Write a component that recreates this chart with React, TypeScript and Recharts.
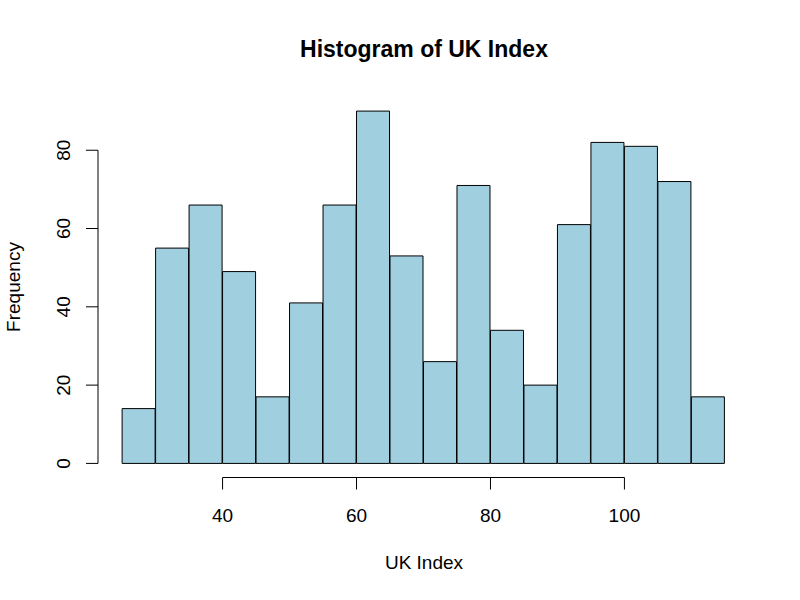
import {
  BarChart,
  Bar,
  XAxis,
  YAxis,
  ReferenceLine,
} from "recharts";

// histogram bins (left edges), width 5
const binStarts = [25, 30, 35, 40, 45, 50, 55, 60, 65, 70, 75, 80, 85, 90, 95, 100, 105, 110];
const counts = [14, 55, 66, 49, 17, 41, 66, 90, 53, 26, 71, 34, 20, 61, 82, 81, 72, 17];
const xTicks = [40, 60, 80, 100];
const yTicks = [0, 20, 40, 60, 80];

const BIN_WIDTH = 5;
const FONT = '"Liberation Sans", Arial, Helvetica, sans-serif';

const data = binStarts.map((start, i) => ({
  mid: start + BIN_WIDTH / 2,
  count: counts[i],
}));

// R pads the axis range by 4% on each side
const xMin = binStarts[0];
const xMax = binStarts[binStarts.length - 1] + BIN_WIDTH;
const xPad = (xMax - xMin) * 0.04;
const yMax = Math.max(...counts);
const yPad = yMax * 0.04;

function RotatedTick(props: any) {
  const { x, y, payload } = props;
  return (
    <text
      x={x}
      y={y}
      dy="0.36em"
      textAnchor="middle"
      transform={`rotate(-90 ${x} ${y})`}
      fill="#000"
      fontSize={19}
      fontFamily={FONT}
    >
      {payload.value}
    </text>
  );
}

export default function App() {
  return (
    <div style={{ position: "absolute", left: 0, top: 0, width: 800, height: 600, background: "#fff" }}>
      <BarChart
        width={800}
        height={600}
        data={data}
        margin={{ top: 97, right: 51, bottom: 0, left: 0 }}
        barCategoryGap={0}
        barGap={0}
      >
        <XAxis
          dataKey="mid"
          type="number"
          domain={[xMin - xPad, xMax + xPad]}
          allowDataOverflow
          ticks={xTicks}
          axisLine={false}
          tickLine={{ stroke: "#000", strokeWidth: 1 }}
          tickSize={12}
          tickMargin={19}
          height={122.5}
          tick={{ fill: "#000", fontSize: 19, fontFamily: FONT }}
        />
        <YAxis
          type="number"
          domain={[-yPad, yMax + yPad]}
          allowDataOverflow
          ticks={yTicks}
          axisLine={false}
          tickLine={{ stroke: "#000", strokeWidth: 1 }}
          tickSize={12}
          tickMargin={23}
          width={98}
          tick={<RotatedTick />}
        />
        <Bar
          dataKey="count"
          fill="#A0CFE0"
          stroke="#000"
          strokeWidth={1}
          isAnimationActive={false}
        />
        <ReferenceLine
          segment={[
            { x: xTicks[0], y: -yPad },
            { x: xTicks[xTicks.length - 1], y: -yPad },
          ]}
          stroke="#000"
          strokeWidth={1}
          ifOverflow="visible"
        />
        <ReferenceLine
          segment={[
            { x: xMin - xPad, y: yTicks[0] },
            { x: xMin - xPad, y: yTicks[yTicks.length - 1] },
          ]}
          stroke="#000"
          strokeWidth={1}
          ifOverflow="visible"
        />
      </BarChart>
      <svg
        width={800}
        height={600}
        style={{ position: "absolute", left: 0, top: 0, pointerEvents: "none" }}
      >
        <text x={424} y={56.5} textAnchor="middle" fontSize={23} fontWeight="bold" fontFamily={FONT}>
          Histogram of UK Index
        </text>
        <text x={424} y={569} textAnchor="middle" fontSize={19} fontFamily={FONT}>
          UK Index
        </text>
        <text
          x={20}
          y={287}
          textAnchor="middle"
          fontSize={19}
          fontFamily={FONT}
          transform="rotate(-90 20 287)"
        >
          Frequency
        </text>
      </svg>
    </div>
  );
}
